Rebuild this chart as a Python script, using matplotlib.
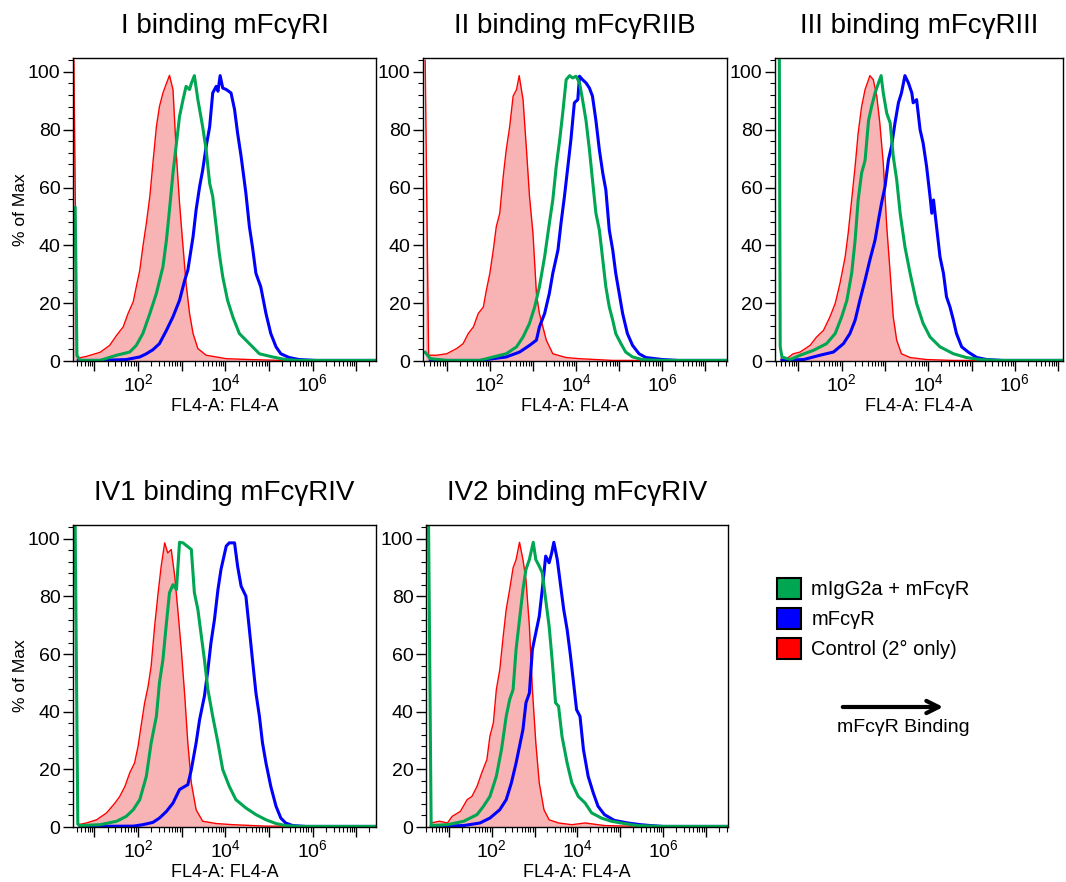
import numpy as np
import matplotlib
matplotlib.use("Agg")
import matplotlib.pyplot as plt
from matplotlib.patches import Patch, FancyArrowPatch
from matplotlib.ticker import LogLocator, MultipleLocator, NullFormatter

plt.rcParams['font.family'] = ['Liberation Sans', 'DejaVu Sans']
plt.rcParams['mathtext.fontset'] = 'custom'
plt.rcParams['mathtext.rm'] = 'Liberation Sans'

titles = ['I binding mFcγRI', 'II binding mFcγRIIB', 'III binding mFcγRIII',
          'IV1 binding mFcγRIV', 'IV2 binding mFcγRIV']
series_names = ['mIgG2a + mFcγR', 'mFcγR', 'Control (2° only)']
x_decades = [1, 2, 3, 4, 5, 6, 7]
x_tick_labels = ['', r'$\mathregular{10^{2}}$', '', r'$\mathregular{10^{4}}$', '',
                 r'$\mathregular{10^{6}}$', '']
y_ticks = [0, 20, 40, 60, 80, 100]

# x values are log10(FL4-A), y values are % of Max
p1_red_x = [0.53, 0.60, 0.63, 0.82, 1.13, 1.35, 1.51, 1.66, 1.77, 1.89, 1.96, 2.04, 2.11, 2.19, 2.27, 2.34,
            2.42, 2.49, 2.57, 2.65, 2.72, 2.80, 2.88, 2.95, 3.03, 3.10, 3.18, 3.26, 3.37, 3.56, 4.02, 4.55,
            5.31, 7.6]
p1_red_y = [104, 1.5, 1, 1.6, 3, 5.4, 8.9, 11.8, 16.4, 20.5, 25.7, 31.4, 39.5, 47.6, 56.9, 68.4,
            81, 88, 92.7, 96, 98.8, 93.9, 70.8, 54.6, 39.5, 26.8, 16.4, 9.5, 4.3, 2, 0.8, 0.5,
            0.2, 0.2]
p1_green_x = [0.56, 0.60, 0.67, 1.13, 1.51, 1.81, 1.96, 2.11, 2.27, 2.42, 2.57, 2.65, 2.72, 2.80, 2.88, 2.95,
              3.03, 3.10, 3.18, 3.22, 3.29, 3.37, 3.41, 3.48, 3.56, 3.64, 3.71, 3.79, 3.86, 3.94, 4.05, 4.17,
              4.32, 4.55, 4.78, 5.08, 5.38, 5.69, 7.6]
p1_green_y = [53, 2, 0.2, 0.2, 2, 3.1, 5.4, 9.5, 16.4, 23.4, 32.6, 41.8, 52.3, 65, 75.4, 84.6,
              90.4, 95, 93.9, 96, 98.7, 90.4, 87, 81, 73, 61.5, 56.9, 46.5, 37.2, 29.1, 21, 15.3,
              9.5, 6, 2.5, 1.4, 0.5, 0.2, 0.2]
p1_blue_x = [0.63, 1.13, 1.73, 2.04, 2.19, 2.34, 2.49, 2.65, 2.80, 2.95, 3.07, 3.14, 3.26, 3.33, 3.41, 3.48,
             3.56, 3.64, 3.71, 3.79, 3.83, 3.88, 3.94, 4.02, 4.13, 4.21, 4.28, 4.36, 4.43, 4.47, 4.55, 4.62,
             4.70, 4.81, 4.93, 5.04, 5.16, 5.27, 5.46, 5.69, 6.07, 7.6]
p1_blue_y = [0.2, 0.2, 0.5, 1.4, 2.5, 3.9, 6, 10.6, 15.3, 21, 28, 31.4, 43, 52.3, 60.3, 66,
             74.2, 81, 92.7, 95, 93.3, 98.7, 94.4, 93.9, 92.7, 87, 78.8, 70.8, 62.7, 58, 46.5, 39.5,
             30.3, 25.7, 16.4, 9.5, 4.9, 2.5, 1.2, 0.5, 0.2, 0.2]

p2_red_x = [0.50, 0.58, 0.77, 1.00, 1.23, 1.38, 1.50, 1.62, 1.73, 1.85, 1.92, 2.00, 2.08, 2.15, 2.23, 2.31,
            2.38, 2.46, 2.54, 2.62, 2.68, 2.77, 2.85, 2.92, 3.00, 3.08, 3.15, 3.31, 3.46, 3.77, 4.08, 4.85, 7.6]
p2_red_y = [104, 2, 2, 2.5, 4.3, 6, 9.5, 11.8, 16.4, 18.7, 24.5, 30.3, 38.4, 46.5, 51.1, 63.8,
            73, 81, 91.6, 93.9, 98.7, 90.4, 73, 56.9, 44.2, 23.4, 16.4, 7.2, 2.5, 1.2, 0.8, 0.2, 0.2]
p2_green_x = [0.50, 0.62, 1.00, 1.77, 2.08, 2.38, 2.62, 2.77, 2.92, 3.04, 3.15, 3.27, 3.38, 3.46, 3.54, 3.62,
              3.69, 3.77, 3.85, 3.92, 4.00, 4.08, 4.15, 4.23, 4.31, 4.38, 4.46, 4.54, 4.62, 4.69, 4.77, 4.85,
              4.92, 5.04, 5.15, 5.31, 5.54, 6.00, 7.6]
p2_green_y = [3, 0.8, 0.2, 0.2, 1.4, 2.5, 4.9, 8.3, 13, 18.7, 25.7, 36, 47.6, 55.7, 67.3, 76.5,
              85.7, 97.3, 98.7, 97.9, 98.5, 96.2, 90.4, 83.2, 73, 62.7, 51.1, 45.3, 34.9, 25.7, 18.7, 14.1,
              9.5, 6, 3.1, 1.4, 0.5, 0.2, 0.2]
p2_blue_x = [0.62, 1.77, 2.38, 2.69, 2.92, 3.08, 3.15, 3.27, 3.38, 3.46, 3.58, 3.65, 3.73, 3.81, 3.88, 3.96,
             4.04, 4.08, 4.15, 4.23, 4.31, 4.38, 4.46, 4.54, 4.62, 4.69, 4.77, 4.85, 4.92, 5.00, 5.08, 5.19,
             5.31, 5.46, 5.62, 6.00, 6.38, 7.6]
p2_blue_y = [0.2, 0.2, 1.4, 3.1, 5.4, 7.2, 11.8, 16.4, 23.4, 30.3, 38.4, 47.6, 56.9, 67.3, 76.5, 89.3,
             90.4, 98.5, 97.3, 96.2, 94.4, 91.6, 83.2, 73, 64.9, 59.2, 45.3, 38.4, 30.3, 23.4, 16.4, 9.5,
             5.4, 2.5, 1.2, 0.5, 0.2, 0.2]

p3_red_x = [0.60, 0.62, 0.73, 0.88, 1.04, 1.27, 1.42, 1.58, 1.73, 1.85, 1.96, 2.08, 2.15, 2.23, 2.31, 2.38,
            2.46, 2.54, 2.62, 2.65, 2.73, 2.81, 2.88, 2.96, 3.04, 3.12, 3.19, 3.27, 3.38, 3.58, 3.96, 4.58, 7.6]
p3_red_y = [0.5, 1.4, 0.8, 2.5, 3.1, 5.4, 8.3, 10.6, 15.3, 19.9, 26.8, 36, 44.2, 55.7, 67.3, 78.8,
            88, 93.9, 97.3, 98.7, 97.3, 91.6, 82.3, 68.4, 46.5, 30.3, 15.3, 7.2, 2.5, 1.2, 0.5, 0.2, 0.2]
p3_green_x = [0.56, 0.58, 0.62, 0.81, 1.04, 1.35, 1.65, 1.85, 2.00, 2.12, 2.23, 2.31, 2.38, 2.46, 2.54, 2.62,
              2.69, 2.77, 2.85, 2.91, 2.96, 3.04, 3.12, 3.19, 3.27, 3.35, 3.46, 3.58, 3.73, 3.88, 4.04, 4.27,
              4.58, 4.88, 5.19, 5.58, 7.6]
p3_green_y = [104, 5, 1.4, 0.5, 2, 3.7, 6, 9.5, 15.3, 21, 30.3, 41.8, 55.7, 65, 69.4, 83.2,
              88, 92.7, 96.2, 98.7, 92.7, 85.7, 82.3, 70.8, 62.7, 51.1, 39.5, 30.3, 19.9, 13, 8.3, 4.9,
              2.5, 1.2, 0.5, 0.2, 0.2]
p3_blue_x = [0.62, 1.12, 1.50, 1.81, 2.04, 2.19, 2.31, 2.42, 2.54, 2.65, 2.77, 2.85, 2.92, 3.00, 3.08, 3.15,
             3.23, 3.31, 3.38, 3.46, 3.54, 3.62, 3.65, 3.73, 3.81, 3.88, 3.96, 4.04, 4.08, 4.12, 4.19, 4.27,
             4.35, 4.42, 4.50, 4.58, 4.65, 4.77, 4.92, 5.12, 5.35, 5.73, 7.6]
p3_blue_y = [0.2, 0.5, 2, 3.1, 6, 9.5, 14.1, 21, 28, 34.9, 41.8, 48.8, 54.6, 60.3, 69.6, 74.2,
             82.3, 89.3, 92.7, 98.7, 96.2, 92.7, 89.3, 90.4, 80, 75.4, 67.3, 56.9, 51.1, 55.7, 46.5, 36,
             30.3, 22.2, 18.7, 14.1, 9.5, 4.9, 3.1, 1.2, 0.5, 0.2, 0.2]

p4_red_x = [0.63, 0.82, 1.05, 1.28, 1.47, 1.58, 1.70, 1.81, 1.92, 2.00, 2.08, 2.15, 2.23, 2.30, 2.38, 2.46,
            2.53, 2.61, 2.68, 2.76, 2.84, 2.91, 2.99, 3.07, 3.14, 3.22, 3.33, 3.48, 3.79, 4.17, 4.93, 7.6]
p4_red_y = [0.8, 1.4, 2.5, 4.9, 8.3, 10.6, 14.1, 18.8, 22.2, 28, 36.1, 43, 48.8, 55.8, 69.7, 81.3,
            90.5, 98.6, 95.1, 96.3, 87, 75.5, 61.6, 45.4, 29.2, 15.3, 6, 2, 1.2, 0.8, 0.3, 0.2]
p4_green_x = [0.56, 0.62, 0.67, 1.13, 1.51, 1.73, 1.89, 2.04, 2.19, 2.30, 2.42, 2.49, 2.57, 2.65, 2.72, 2.80,
              2.88, 2.95, 3.03, 3.22, 3.29, 3.37, 3.45, 3.52, 3.60, 3.71, 3.83, 3.94, 4.09, 4.24, 4.47, 4.70,
              4.93, 5.16, 5.38, 5.69, 7.6]
p4_green_y = [104, 1, 0.5, 0.8, 2, 3.7, 6, 9.5, 17.6, 29.2, 38.4, 50, 58.1, 70.8, 81.3, 84.1,
              82.4, 98.8, 98.6, 96.3, 81.3, 75.5, 66.2, 58.1, 47.7, 38.4, 29.2, 19.9, 14.1, 9.5, 6.6, 4.3,
              2.5, 1.2, 0.5, 0.2, 0.2]
p4_blue_x = [0.67, 1.89, 2.11, 2.34, 2.49, 2.65, 2.80, 2.95, 3.14, 3.22, 3.33, 3.41, 3.52, 3.60, 3.67, 3.75,
             3.83, 3.90, 4.02, 4.09, 4.21, 4.28, 4.36, 4.47, 4.55, 4.62, 4.70, 4.78, 4.85, 4.93, 5.04, 5.16,
             5.27, 5.38, 5.54, 5.84, 7.6]
p4_blue_y = [0.2, 0.3, 0.8, 1.6, 3.1, 5.4, 8.3, 13, 14.7, 19.9, 29.2, 37.3, 45.4, 54.6, 63.9, 72,
             82.4, 89.4, 97.5, 98.6, 98.6, 90.5, 83.6, 80.1, 68.5, 58.1, 46.5, 38.4, 29.2, 22.2, 14.1, 7.2,
             3.1, 1.4, 0.5, 0.2, 0.2]

p5_red_x = [0.59, 0.78, 0.97, 1.08, 1.27, 1.43, 1.54, 1.66, 1.77, 1.89, 1.96, 2.04, 2.11, 2.19, 2.27, 2.34,
            2.42, 2.50, 2.57, 2.65, 2.73, 2.80, 2.88, 2.95, 3.03, 3.11, 3.22, 3.34, 3.56, 3.87, 4.18, 4.63,
            5.17, 7.6]
p5_red_y = [1.4, 2, 1.4, 3.7, 5.4, 9.5, 10.6, 14.1, 18.8, 23.4, 31.5, 36.1, 47.7, 54.6, 66.2, 75.5,
            82.4, 89.9, 92.8, 98.8, 92.8, 85.9, 69.7, 47.7, 29.2, 15.3, 6, 2.5, 1.4, 0.8, 1.4, 0.5,
            0.3, 0.2]
p5_green_x = [0.53, 0.59, 0.97, 1.35, 1.66, 1.81, 1.96, 2.11, 2.23, 2.34, 2.42, 2.50, 2.57, 2.65, 2.73, 2.80,
              2.88, 2.97, 3.03, 3.11, 3.18, 3.26, 3.34, 3.41, 3.49, 3.56, 3.64, 3.76, 3.87, 4.02, 4.18, 4.33,
              4.56, 4.79, 5.09, 5.40, 5.93, 7.6]
p5_green_y = [104, 0.5, 0.8, 2, 4.3, 7.2, 10.6, 17.6, 26.9, 38.4, 44.2, 47.7, 61.6, 72, 82.4, 89.4,
              92.8, 98.8, 92.8, 90.5, 88.2, 78.9, 69.7, 58.1, 43.1, 41.9, 31.5, 22.2, 15.3, 10.6, 8.3, 4.9,
              3.1, 2, 1.2, 0.5, 0.2, 0.2]
p5_blue_x = [0.59, 1.35, 1.73, 1.96, 2.19, 2.34, 2.46, 2.57, 2.65, 2.73, 2.80, 2.88, 2.95, 3.03, 3.11, 3.18,
             3.26, 3.34, 3.40, 3.45, 3.53, 3.60, 3.68, 3.76, 3.83, 3.91, 3.98, 4.06, 4.14, 4.25, 4.37, 4.48,
             4.63, 4.86, 5.17, 5.47, 5.70, 6.01, 7.6]
p5_blue_y = [0.2, 0.5, 1.4, 3.1, 6, 9.5, 15.3, 22.2, 28, 33.8, 43.1, 46.5, 61.6, 67.4, 73.1, 82.4,
             94, 91.7, 95.1, 98.8, 92.8, 84.7, 75.5, 68.5, 60.4, 50, 40.7, 38.4, 26.9, 17.6, 11.8, 7.2,
             4.3, 2.3, 1.4, 0.8, 0.5, 0.2, 0.2]

GREEN = '#00a651'
BLUE = '#0000ff'
RED = '#ff0000'
PINK = '#f8b4b4'

W, H = 1066, 882
fig = plt.figure(figsize=(W / 100, H / 100), dpi=100)


def rect(l, t, r, b):
    return [l / W, 1 - b / H, (r - l) / W, (b - t) / H]


panels = [
    (rect(73, 58, 376, 361), (0.51, 7.45), p1_red_x, p1_red_y, p1_green_x, p1_green_y, p1_blue_x, p1_blue_y, True),
    (rect(423, 58, 727, 361), (0.45, 7.50), p2_red_x, p2_red_y, p2_green_x, p2_green_y, p2_blue_x, p2_blue_y, False),
    (rect(775, 58, 1063, 361), (0.46, 7.11), p3_red_x, p3_red_y, p3_green_x, p3_green_y, p3_blue_x, p3_blue_y, False),
    (rect(73, 525, 376, 827), (0.51, 7.45), p4_red_x, p4_red_y, p4_green_x, p4_green_y, p4_blue_x, p4_blue_y, True),
    (rect(426, 525, 728, 827), (0.47, 7.51), p5_red_x, p5_red_y, p5_green_x, p5_green_y, p5_blue_x, p5_blue_y, False),
]

for title, (pos, xl, rx, ry, gx, gy, bx, by, show_ylabel) in zip(titles, panels):
    ax = fig.add_axes(pos)
    rxv = 10 ** np.array(rx)
    ax.fill_between(rxv, ry, 0, color=PINK, lw=0)
    ax.plot(rxv, ry, color=RED, lw=1.0)
    ax.plot(10 ** np.array(bx), by, color=BLUE, lw=2.2)
    ax.plot(10 ** np.array(gx), gy, color=GREEN, lw=2.2)

    ax.set_xscale('log')
    ax.set_xlim(10 ** xl[0], 10 ** xl[1])
    ax.set_ylim(0, 104.8)
    ax.set_xticks([10.0 ** d for d in x_decades])
    ax.set_xticklabels(x_tick_labels, fontsize=14)
    ax.xaxis.set_minor_locator(LogLocator(base=10, subs=np.arange(2, 10), numticks=100))
    ax.xaxis.set_minor_formatter(NullFormatter())
    ax.set_yticks(y_ticks)
    ax.set_yticklabels([str(v) for v in y_ticks], fontsize=14)
    ax.yaxis.set_minor_locator(MultipleLocator(4))
    ax.tick_params(which='major', direction='out', length=7, width=1, pad=2)
    ax.tick_params(which='minor', direction='out', length=3.5, width=0.8)
    for s in ax.spines.values():
        s.set_linewidth(1)
    ax.set_xlabel('FL4-A: FL4-A', fontsize=13, labelpad=2)
    if show_ylabel:
        ax.set_ylabel('% of Max', fontsize=12.5, labelpad=0)
    ax.set_title(title, fontsize=20, pad=18)

handles = [Patch(facecolor=c, edgecolor='black', lw=1.5, label=n)
           for c, n in zip([GREEN, BLUE, RED], series_names)]
fig.legend(handles=handles, loc='upper left', bbox_to_anchor=(777 / W, 1 - 578 / H),
           frameon=False, fontsize=14.5, handlelength=1.2, handleheight=1.2,
           handletextpad=0.5, labelspacing=0.45, borderpad=0, borderaxespad=0)

arrow = FancyArrowPatch((840 / W, 1 - 707 / H), (946 / W, 1 - 707 / H), transform=fig.transFigure,
                        arrowstyle='->', mutation_scale=22, lw=3, color='black')
fig.add_artist(arrow)
fig.text(903 / W, 1 - 728 / H, 'mFcγR Binding', ha='center', va='center', fontsize=14)

fig.savefig('out.png', dpi=100)
